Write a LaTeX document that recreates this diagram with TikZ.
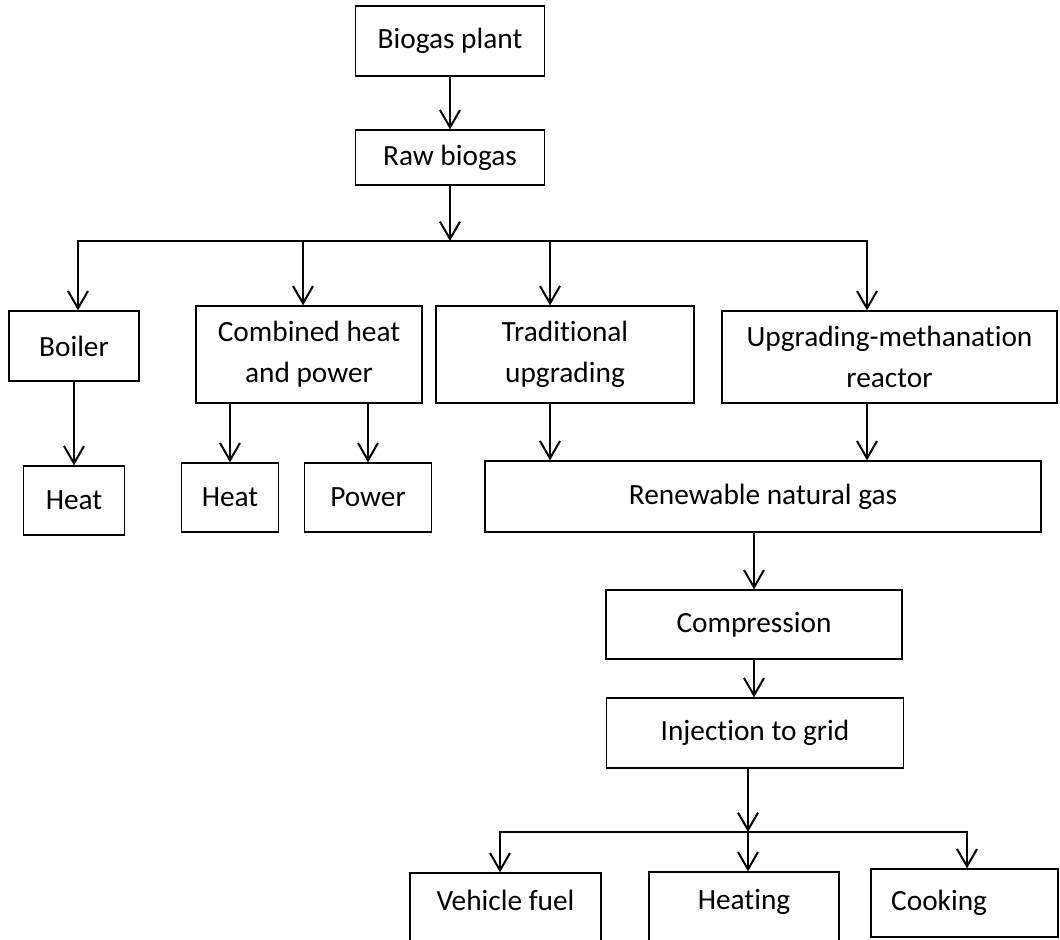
\documentclass[tikz,border=0pt]{standalone}
\usepackage{fontspec}
\setmainfont[Ligatures=NoCommon]{Carlito}
\usetikzlibrary{arrows.meta,positioning,calc}

\begin{document}
\begin{tikzpicture}[x=0.75pt,y=-0.75pt,font=\fontsize{22}{30.5}\selectfont,
  box/.style={draw,line width=1pt,align=center,inner sep=2pt},
  arr/.style={line width=1.5pt,-{Straight Barb[length=13pt,width=15pt]}},
  link/.style={line width=1.5pt,line cap=rect},
  cut/.style={text depth=19pt,minimum height=60pt}]
  \clip (0,0) rectangle (1060,939);
  % top of the chain
  \node[box,minimum width=141.75pt,minimum height=52.5pt] (plant) at (450,41) {Biogas plant};
  \node[box,minimum width=141.75pt,minimum height=41.25pt] (raw) at (450,157.5) {Raw biogas};
  \draw[arr] (plant.south) -- (raw.north);
  \coordinate (hub) at (450,241);
  \draw[arr] (raw.south) -- (hub);
  % first split
  \node[box,minimum width=97.5pt,minimum height=52.5pt] (boiler) at (74,346) {Boiler};
  \node[box,minimum width=169.5pt,minimum height=72.75pt] (chp) at (309,354.5) {Combined heat\\and power};
  \node[box,minimum width=193.5pt,minimum height=72.75pt] (trad) at (565,354.5) {Traditional\\upgrading};
  \node[box,minimum width=251.25pt,minimum height=69pt] (upg) at (889.5,357) {Upgrading-methanation\\reactor};
  \coordinate (bBoiler) at (78,241);
  \coordinate (bChp) at (303,241);
  \coordinate (bTrad) at (550,241);
  \coordinate (bUpg) at (867,241);
  \draw[link] (bBoiler) -- (bUpg);
  \foreach \b/\n in {bBoiler/boiler,bChp/chp,bTrad/trad,bUpg/upg}
    \draw[arr] (\b) -- (\b |- \n.north);
  % products
  \node[box,minimum width=75.75pt,minimum height=51.75pt] (heatA) at (74,500.5) {Heat};
  \node[box,minimum width=72.75pt,minimum height=51.75pt] (heatB) at (230,497.5) {Heat};
  \node[box,minimum width=95.25pt,minimum height=51.75pt] (power) at (368,497.5) {Power};
  \node[box,minimum width=417pt,minimum height=53.25pt] (rng) at (763,496.5) {Renewable natural gas};
  \draw[arr] (boiler.south) -- (heatA.north);
  \draw[arr] (heatB.north |- chp.south) -- (heatB.north);
  \draw[arr] (power.north |- chp.south) -- (power.north);
  \draw[arr] (bTrad |- trad.south) -- (bTrad |- rng.north);
  \draw[arr] (bUpg |- upg.south) -- (bUpg |- rng.north);
  % grid
  \node[box,minimum width=222pt,minimum height=51.75pt] (comp) at (754,624.5) {Compression};
  \node[box,minimum width=222.75pt,minimum height=52.5pt] (inj) at (755,733) {Injection to grid};
  \draw[arr] (rng.south -| comp.north) -- (comp.north);
  \draw[arr] (comp.south) -- (comp.south |- inj.north);
  \coordinate (hubB) at (748,832);
  \draw[arr] (inj.south -| hubB) -- (hubB);
  % end uses
  \node[box,cut,minimum width=143.25pt] (vehicle) at (505.5,913) {Vehicle fuel};
  \node[box,cut,minimum width=142.5pt] (heating) at (744,912) {Heating};
  \node[box,minimum width=140.25pt,minimum height=51pt,text width=110pt,inner xsep=15pt,align=left] (cooking) at (964.5,903) {Cooking};
  \coordinate (bVehicle) at (500,832);
  \coordinate (bCooking) at (967,832);
  \draw[link] (bVehicle) -- (bCooking);
  \foreach \b/\n in {bVehicle/vehicle,hubB/heating,bCooking/cooking}
    \draw[arr] (\b) -- (\b |- \n.north);
\end{tikzpicture}
\end{document}
